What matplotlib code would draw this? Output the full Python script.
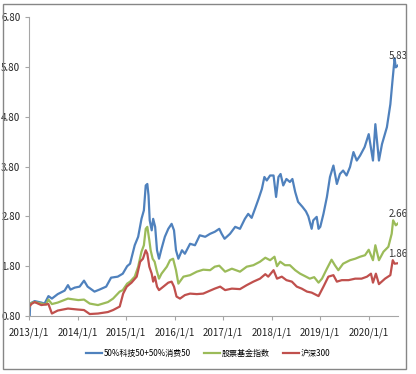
import matplotlib
matplotlib.use('Agg')
import matplotlib.pyplot as plt
import matplotlib.dates as mdates
import pandas as pd
from matplotlib.patches import Rectangle

# values (net value, start = 1.00)
tech_dates = [
    '2013-01-04', '2013-01-07', '2013-02-10', '2013-04-01', '2013-04-26', '2013-05-25',
    '2013-06-20', '2013-08-03', '2013-09-24', '2013-10-19', '2013-11-07', '2013-12-09',
    '2014-01-15', '2014-02-17', '2014-03-16', '2014-05-07', '2014-06-13', '2014-08-03',
    '2014-09-09', '2014-10-29', '2014-12-06', '2015-01-08', '2015-01-30', '2015-03-06',
    '2015-04-01', '2015-04-26', '2015-05-14', '2015-05-28', '2015-06-09', '2015-06-18',
    '2015-06-27', '2015-07-12', '2015-07-23', '2015-08-07', '2015-08-21', '2015-09-05',
    '2015-09-24', '2015-10-19', '2015-11-14', '2015-12-09', '2015-12-27', '2016-01-11',
    '2016-01-29', '2016-02-25', '2016-03-18', '2016-04-26', '2016-06-02', '2016-07-08',
    '2016-08-18', '2016-09-24', '2016-10-29', '2016-12-02', '2016-12-20', '2017-01-11',
    '2017-02-21', '2017-04-01', '2017-05-07', '2017-06-13', '2017-07-08', '2017-08-03',
    '2017-08-28', '2017-09-24', '2017-10-19', '2017-11-07', '2017-11-25', '2017-12-20',
    '2018-01-15', '2018-02-03', '2018-02-21', '2018-03-09', '2018-03-29', '2018-04-22',
    '2018-05-18', '2018-06-06', '2018-06-27', '2018-07-19', '2018-08-21', '2018-09-16',
    '2018-10-04', '2018-10-29', '2018-11-10', '2018-12-06', '2018-12-20', '2019-01-02',
    '2019-01-26', '2019-02-21', '2019-03-16', '2019-04-11', '2019-05-07', '2019-05-30',
    '2019-06-23', '2019-07-19', '2019-08-14', '2019-09-09', '2019-10-04', '2019-10-29',
    '2019-12-02', '2020-01-02', '2020-02-03', '2020-02-21', '2020-03-19', '2020-04-11',
    '2020-05-18', '2020-06-13', '2020-06-29', '2020-07-15', '2020-07-24', '2020-08-10',
]
tech_vals = [
    0.80, 1.05, 1.10, 1.07, 1.05, 1.20,
    1.15, 1.24, 1.31, 1.42, 1.33, 1.37,
    1.39, 1.51, 1.39, 1.29, 1.33, 1.39,
    1.57, 1.59, 1.65, 1.80, 1.85, 2.22,
    2.39, 2.75, 2.92, 3.42, 3.45, 3.22,
    2.72, 2.52, 2.75, 2.59, 2.12, 1.95,
    2.15, 2.39, 2.55, 2.65, 2.52, 2.12,
    1.95, 2.12, 2.05, 2.25, 2.22, 2.42,
    2.39, 2.45, 2.49, 2.55, 2.45, 2.35,
    2.45, 2.59, 2.55, 2.75, 2.85, 2.77,
    2.95, 3.15, 3.35, 3.59, 3.52, 3.62,
    3.62, 3.19, 3.59, 3.65, 3.42, 3.55,
    3.49, 3.55, 3.29, 3.09, 2.99, 2.90,
    2.80, 2.55, 2.72, 2.79, 2.55, 2.59,
    2.85, 3.19, 3.59, 3.82, 3.45, 3.65,
    3.72, 3.62, 3.79, 4.09, 3.92, 4.02,
    4.19, 4.45, 3.92, 4.65, 3.92, 4.25,
    4.59, 5.05, 5.52, 5.97, 5.79, 5.83,
]

fund_dates = [
    '2013-01-04', '2013-01-16', '2013-02-10', '2013-04-01', '2013-05-07', '2013-05-25',
    '2013-06-20', '2013-08-03', '2013-10-19', '2014-01-05', '2014-02-17', '2014-04-01',
    '2014-06-02', '2014-08-16', '2014-09-24', '2014-11-13', '2014-12-06', '2015-01-08',
    '2015-01-30', '2015-03-06', '2015-04-01', '2015-04-26', '2015-05-14', '2015-05-28',
    '2015-06-09', '2015-06-24', '2015-07-04', '2015-07-19', '2015-08-03', '2015-08-18',
    '2015-09-05', '2015-09-24', '2015-11-03', '2015-11-27', '2015-12-20', '2016-01-11',
    '2016-01-29', '2016-03-07', '2016-04-26', '2016-06-16', '2016-08-03', '2016-09-24',
    '2016-10-29', '2016-12-02', '2017-01-15', '2017-03-07', '2017-05-07', '2017-06-27',
    '2017-08-16', '2017-10-05', '2017-11-14', '2017-12-20', '2018-01-22', '2018-02-10',
    '2018-03-06', '2018-04-11', '2018-05-18', '2018-06-27', '2018-08-03', '2018-09-09',
    '2018-10-15', '2018-11-17', '2018-12-20', '2019-01-15', '2019-02-21', '2019-03-28',
    '2019-04-22', '2019-05-18', '2019-06-23', '2019-08-14', '2019-09-22', '2019-10-29',
    '2019-12-05', '2020-01-02', '2020-02-03', '2020-02-21', '2020-03-19', '2020-04-22',
    '2020-05-29', '2020-06-23', '2020-07-04', '2020-07-24', '2020-08-10',
]
fund_vals = [
    1.00, 1.06, 1.08, 1.05, 1.03, 1.13,
    1.04, 1.07, 1.15, 1.12, 1.13, 1.05,
    1.02, 1.08, 1.15, 1.29, 1.32, 1.45,
    1.49, 1.59, 1.79, 2.09, 2.22, 2.55,
    2.59, 2.32, 2.12, 1.95, 1.89, 1.72,
    1.55, 1.65, 1.79, 1.92, 1.95, 1.72,
    1.45, 1.59, 1.62, 1.69, 1.73, 1.72,
    1.79, 1.81, 1.69, 1.75, 1.69, 1.79,
    1.82, 1.89, 1.97, 1.92, 1.99, 1.80,
    1.89, 1.82, 1.82, 1.72, 1.65, 1.60,
    1.55, 1.58, 1.47, 1.55, 1.75, 1.93,
    1.82, 1.72, 1.85, 1.92, 1.95, 1.99,
    2.02, 2.13, 1.92, 2.22, 1.92, 2.09,
    2.19, 2.45, 2.72, 2.62, 2.66,
]

hs300_dates = [
    '2013-01-04', '2013-01-16', '2013-02-10', '2013-04-01', '2013-05-25', '2013-06-20',
    '2013-08-03', '2013-10-19', '2014-01-02', '2014-02-17', '2014-04-01', '2014-06-02',
    '2014-08-16', '2014-09-24', '2014-11-13', '2014-11-24', '2014-12-09', '2015-01-05',
    '2015-02-10', '2015-03-21', '2015-04-16', '2015-05-07', '2015-05-28', '2015-06-09',
    '2015-06-24', '2015-07-12', '2015-07-23', '2015-08-05', '2015-08-21', '2015-09-05',
    '2015-10-08', '2015-11-14', '2015-12-09', '2015-12-27', '2016-01-15', '2016-02-10',
    '2016-03-18', '2016-04-26', '2016-06-16', '2016-08-03', '2016-09-24', '2016-10-29',
    '2016-12-09', '2017-01-15', '2017-03-07', '2017-05-07', '2017-06-27', '2017-08-16',
    '2017-10-05', '2017-11-14', '2017-12-06', '2018-01-15', '2018-02-10', '2018-03-18',
    '2018-04-22', '2018-06-02', '2018-07-09', '2018-08-15', '2018-09-24', '2018-10-29',
    '2018-12-20', '2019-01-26', '2019-03-04', '2019-04-11', '2019-05-07', '2019-06-13',
    '2019-08-03', '2019-09-22', '2019-11-09', '2019-12-20', '2020-01-19', '2020-02-03',
    '2020-02-25', '2020-03-19', '2020-05-04', '2020-06-13', '2020-07-01', '2020-07-15',
    '2020-08-10',
]
hs300_vals = [
    1.00, 1.04, 1.08, 1.02, 1.04, 0.85,
    0.91, 0.95, 0.93, 0.92, 0.84, 0.85,
    0.88, 0.92, 0.99, 1.10, 1.25, 1.39,
    1.47, 1.59, 1.89, 1.95, 2.12, 2.05,
    1.79, 1.65, 1.49, 1.59, 1.39, 1.32,
    1.39, 1.47, 1.49, 1.39, 1.19, 1.15,
    1.22, 1.25, 1.24, 1.25, 1.31, 1.35,
    1.39, 1.32, 1.35, 1.34, 1.42, 1.49,
    1.55, 1.64, 1.59, 1.72, 1.55, 1.59,
    1.52, 1.49, 1.39, 1.35, 1.29, 1.27,
    1.20, 1.39, 1.59, 1.62, 1.49, 1.52,
    1.52, 1.55, 1.55, 1.59, 1.65, 1.47,
    1.65, 1.44, 1.55, 1.62, 1.92, 1.85,
    1.86,
]

series_names = ['50%科技50+50%消费50', '股票基金指数', '沪深300']
series_colors = ['#4F81BD', '#9BBB59', '#C0504D']
y_ticks = [0.80, 1.80, 2.80, 3.80, 4.80, 5.80, 6.80]
x_tick_dates = ['2013-01-01', '2014-01-01', '2015-01-01', '2016-01-01',
                '2017-01-01', '2018-01-01', '2019-01-01', '2020-01-01']

plt.rcParams['font.family'] = ['Liberation Sans Narrow', 'Noto Sans CJK SC', 'DejaVu Sans']

fig = plt.figure(figsize=(4.16, 3.74), dpi=100)
ax = fig.add_axes([0.0705, 0.155, 0.887, 0.7995])

all_series = [(tech_dates, tech_vals), (fund_dates, fund_vals), (hs300_dates, hs300_vals)]
for (dates, vals), name, color in zip(all_series, series_names, series_colors):
    d = pd.to_datetime(dates)
    ax.plot(d, vals, color=color, lw=1.6, label=name)
    # end-of-series value label
    ax.annotate(f'{vals[-1]:.2f}', (d[-1], vals[-1]), xytext=(0, 3),
                textcoords='offset points', ha='center', va='bottom',
                fontsize=7, color='#333333')

ax.set_ylim(0.8, 6.8)
ax.set_yticks(y_ticks)
ax.set_yticklabels([f'{v:.2f}' for v in y_ticks])
ticks = pd.to_datetime(x_tick_dates)
ax.set_xticks(ticks)
ax.set_xticklabels([f'{t.year}/{t.month}/{t.day}' for t in ticks])
ax.set_xlim(pd.Timestamp('2013-01-01'), pd.Timestamp('2020-08-12'))

for side in ['top', 'right']:
    ax.spines[side].set_visible(False)
for side in ['left', 'bottom']:
    ax.spines[side].set_color('#A6A6A6')
    ax.spines[side].set_linewidth(0.8)
ax.tick_params(axis='both', colors='#A6A6A6', labelcolor='#222222',
               labelsize=7, length=3, width=0.8, direction='out')
ax.tick_params(axis='x', pad=5)

fig.legend(loc='center', bbox_to_anchor=(0.5, 0.056), ncol=3, frameon=False,
           fontsize=5.8, handlelength=2.0, handletextpad=0.2, columnspacing=1.6)

# outer chart border
fig.patches.append(Rectangle((0.0065, 0.013), 0.969, 0.976, transform=fig.transFigure,
                             fill=False, edgecolor='#868686', lw=1.0))

fig.savefig('out.png', dpi=100)
